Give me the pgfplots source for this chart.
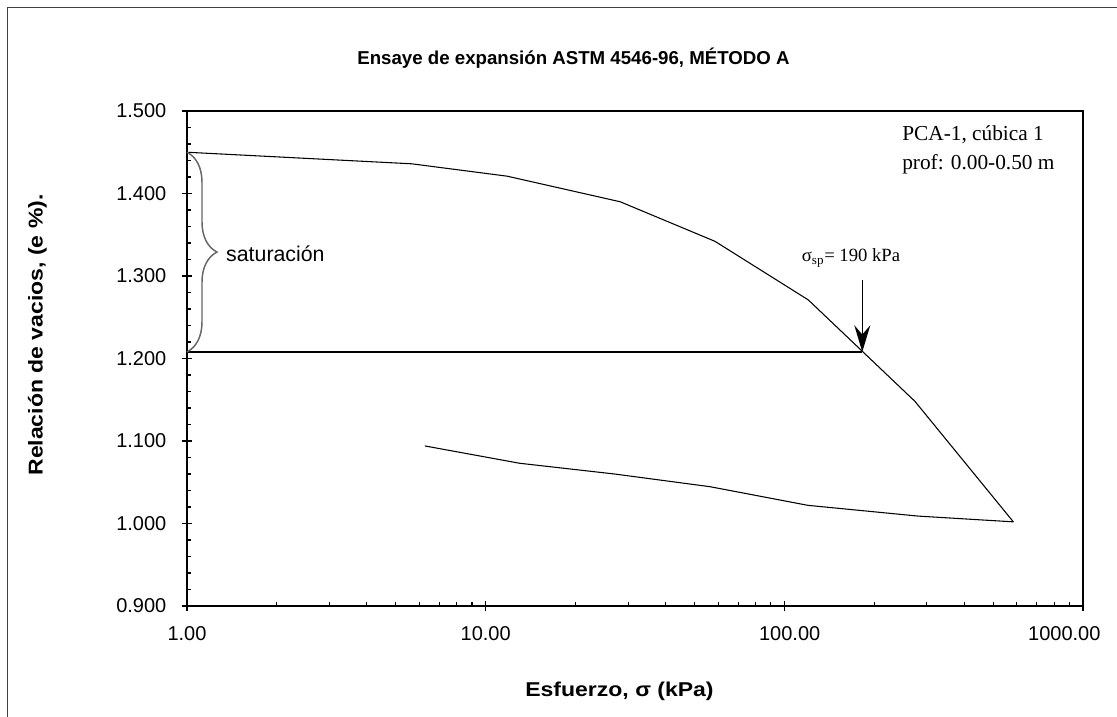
\documentclass[border=0pt]{standalone}
\usepackage{fontspec}
\setmainfont{Liberation Sans}
\newfontfamily\serif{Liberation Serif}
\newfontfamily\wide[FakeStretch=1.15]{Liberation Sans}
\usepackage{pgfplots}
\pgfplotsset{compat=1.18}
\usetikzlibrary{arrows.meta,decorations.pathreplacing}

\begin{document}
\begin{tikzpicture}[x=0.75pt,y=0.75pt]
\path[use as bounding box] (0,0) rectangle (1117,717);
\draw[line width=0.9pt, black!75] (7.5,0) -- (7.5,709.5) -- (1117,709.5);
\begin{axis}[
  at={(140.25pt,83.25pt)}, anchor=south west,
  scale only axis, width=672pt, height=371.25pt,
  xmode=log, xmin=1, xmax=1000, ymin=0.9, ymax=1.5,
  xtick={1,10,100,1000}, xticklabels={1.00,10.00,{\hspace*{8pt}100.00},{1000.00\hspace*{28pt}}},
  ytick={0.9,1.0,1.1,1.2,1.3,1.4,1.5},
  yticklabels={0.900,1.000,1.100,1.200,1.300,1.400,1.500},
  minor y tick num=4,
  xtick pos=left, ytick pos=left,
  tick align=center,
  major tick length=8pt,
  minor tick length=3pt,
  every minor x tick/.append style={yshift=1.5pt},
  every minor y tick/.append style={xshift=1.5pt},
  axis line style={line width=1pt},
  tick style={black, line width=0.8pt},
  ticklabel style={font=\fontsize{15}{15}\selectfont},
  xticklabel style={yshift=-8pt},
  yticklabel style={xshift=-8pt},
  /pgf/number format/assume math mode=true,
  clip=false,
]
\addplot[black, line width=0.8pt] coordinates {(1,1.450) (5.65,1.436) (11.8,1.421) (28.2,1.390) (58.6,1.342) (120.3,1.271) (273.8,1.148) (584.5,1.002)};
\addplot[black, line width=0.8pt] coordinates {(584.5,1.002) (280,1.009) (120,1.022) (56.4,1.0446) (27,1.060) (13,1.073) (6.26,1.094)};
\addplot[black, line width=1pt] coordinates {(1,1.208) (182.4,1.208)};
\draw[decorate, decoration={brace, amplitude=22.5pt}, black!60, line width=1.1pt] (axis cs:1,1.450) -- (axis cs:1,1.208);
\node[anchor=base west, inner sep=0, font=\fontsize{16}{16}\selectfont] at (axis cs:1.35,1.3173) {saturación};
\draw[line width=1.1pt, -{Stealth[length=20pt,width=12pt,inset=7pt]}] (axis cs:182.4,1.2952) -- (axis cs:182.4,1.208);
\node[anchor=base, inner sep=0, font=\serif\fontsize{14}{14}\selectfont] at (axis cs:167.2,1.3173) {σ\textsubscript{sp}= 190 kPa};
\node[anchor=base west, inner sep=0, font=\serif\fontsize{16}{16}\selectfont] at (axis cs:247.7,1.464) {PCA-1, cúbica 1};
\node[anchor=base west, inner sep=0, font=\serif\fontsize{16}{16}\selectfont] at (axis cs:247.7,1.4285) {prof: 0.00-0.50 m};
\end{axis}
\node[anchor=base, inner sep=0, font=\bfseries\fontsize{14}{14}\selectfont] at (573.5,652) {Ensaye de expansión ASTM 4546-96, MÉTODO A};
\node[anchor=base, inner sep=0, font=\wide\bfseries\fontsize{15}{15}\selectfont] at (619.5,20) {Esfuerzo, σ (kPa)};
\node[anchor=base, rotate=90, inner sep=0, font=\wide\bfseries\fontsize{15}{15}\selectfont] at (42.7,382) {Relación de vacios, (e \%).};
\end{tikzpicture}
\end{document}
